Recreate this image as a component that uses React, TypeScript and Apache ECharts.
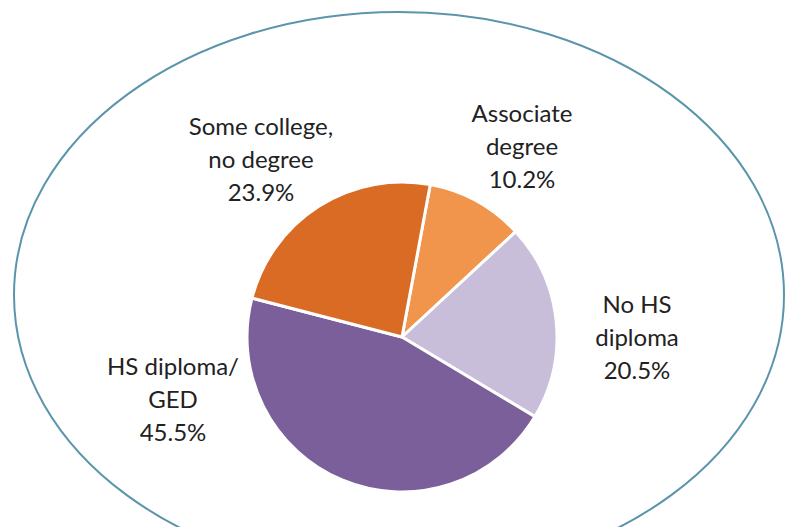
import React, { useEffect, useRef } from "react";
import * as echarts from "echarts";

const categories = ["Associate\ndegree", "No HS\ndiploma", "HS diploma/\nGED", "Some college,\nno degree"];
const shares = [10.2, 20.5, 45.5, 23.9];
const sliceColors = ["#F0954B", "#C8BED9", "#7B5F9A", "#DA6B25"];
// label block centres (pixels) as placed in the reference
const labelCenters: [number, number][] = [
  [522, 145],
  [637, 336],
  [173, 398],
  [261, 158],
];

export default function App() {
  const ref = useRef<HTMLDivElement>(null);
  useEffect(() => {
    document.body.style.margin = "0";
    if (!ref.current) return;
    const chart = echarts.init(ref.current, undefined, { renderer: "svg" });
    chart.setOption({
      animation: false,
      backgroundColor: "#ffffff",
      graphic: [
        {
          type: "ellipse",
          z: -1,
          shape: { cx: 399, cy: 295, rx: 385, ry: 283 },
          style: { fill: "none", stroke: "#5B95AB", lineWidth: 2 },
        },
      ],
      series: [
        {
          type: "pie",
          center: [402, 337],
          radius: 155,
          startAngle: 79.5,
          clockwise: true,
          avoidLabelOverlap: false,
          data: categories.map((c, i) => ({
            name: c,
            value: shares[i],
            itemStyle: { color: sliceColors[i] },
          })),
          itemStyle: { borderColor: "#ffffff", borderWidth: 3 },
          label: {
            show: true,
            position: "outside",
            formatter: (p: any) => `${p.name}\n${p.value.toFixed(1)}%`,
            fontFamily: "Lato",
            fontSize: 24,
            lineHeight: 33,
            color: "#222222",
            align: "center",
          },
          labelLine: { show: false },
          labelLayout: (params: any) => {
            const c = labelCenters[params.dataIndex];
            return { x: c[0], y: c[1], align: "center", verticalAlign: "middle" };
          },
          emphasis: { disabled: true },
        },
      ],
    });
    return () => chart.dispose();
  }, []);
  return <div ref={ref} style={{ width: 796, height: 527 }} />;
}
